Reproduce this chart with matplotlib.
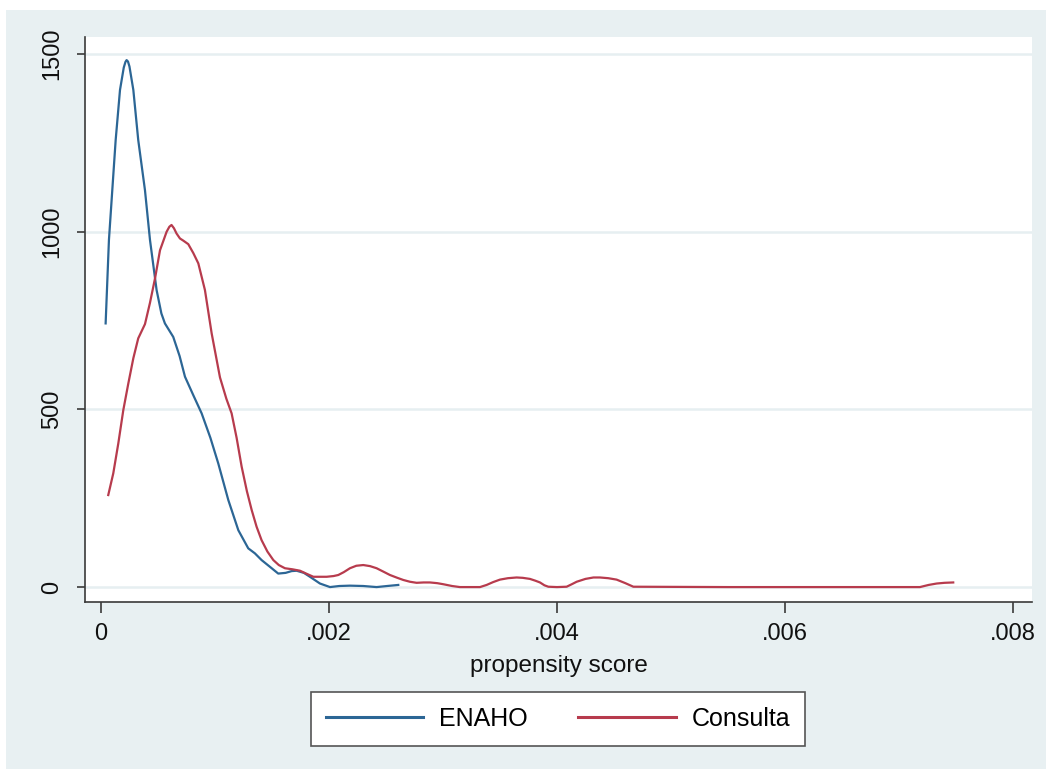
import numpy as np
import matplotlib
matplotlib.use('Agg')
import matplotlib.pyplot as plt
from matplotlib.patches import Rectangle

plt.rcParams['font.family'] = ['Liberation Sans', 'DejaVu Sans']

# kernel density curves (x in units of 0.001)
enaho_x = [0.041, 0.07, 0.10, 0.129, 0.167, 0.20, 0.215, 0.225, 0.237, 0.25,
           0.284, 0.327, 0.386, 0.430, 0.488, 0.53, 0.561, 0.634, 0.69, 0.737,
           0.81, 0.883, 0.96, 1.029, 1.117, 1.205, 1.292, 1.35, 1.409, 1.49,
           1.555, 1.62, 1.673, 1.716, 1.78, 1.833, 1.921, 2.009, 2.09, 2.184,
           2.301, 2.418, 2.51, 2.608]
enaho_y = [742, 977, 1120, 1258, 1399, 1462, 1478, 1483, 1479, 1465,
           1399, 1258, 1117, 977, 836, 770, 742, 704, 650, 592,
           540, 489, 420, 348, 245, 160, 109, 95, 76, 55,
           38, 40, 45, 46, 40, 29, 10, 0, 3, 4,
           3, 0, 3, 6]

consulta_x = [0.064, 0.108, 0.152, 0.196, 0.240, 0.284, 0.327, 0.386, 0.430, 0.475,
              0.518, 0.576, 0.600, 0.619, 0.640, 0.663, 0.693, 0.722, 0.766, 0.81,
              0.854, 0.912, 0.971, 1.044, 1.10, 1.146, 1.19, 1.234, 1.28, 1.322,
              1.365, 1.409, 1.46, 1.512, 1.56, 1.614, 1.68, 1.746, 1.80, 1.863,
              1.92, 1.980, 2.04, 2.082, 2.13, 2.184, 2.24, 2.301, 2.36, 2.418,
              2.48, 2.535, 2.60, 2.652, 2.71, 2.769, 2.83, 2.886, 2.95, 3.003,
              3.08, 3.149, 3.25, 3.325, 3.383, 3.44, 3.500, 3.57, 3.646, 3.70,
              3.763, 3.81, 3.851, 3.89, 3.924, 4.0, 4.085, 4.13, 4.173, 4.25,
              4.32, 4.377, 4.45, 4.523, 4.60, 4.670, 5.5, 6.5, 7.184, 7.26,
              7.331, 7.40, 7.476]
consulta_y = [259, 320, 404, 498, 573, 644, 700, 740, 800, 870,
              948, 1000, 1014, 1019, 1010, 995, 981, 975, 965, 940,
              911, 836, 714, 590, 530, 489, 420, 339, 270, 217,
              170, 132, 100, 76, 62, 53, 50, 46, 38, 29,
              29, 29, 31, 34, 42, 53, 60, 62, 59, 53,
              43, 34, 26, 20, 15, 12, 13, 13, 11, 8,
              3, 0, 0, 0, 6, 14, 21, 25, 27, 26,
              23, 18, 13, 5, 1, 0, 1, 8, 15, 23,
              27, 27, 25, 21, 11, 1, 0, 0, 0, 6,
              10, 12, 13]

x_ticks = [0, 0.002, 0.004, 0.006, 0.008]
x_labels = ['0', '.002', '.004', '.006', '.008']
y_ticks = [0, 500, 1000, 1500]
y_labels = ['0', '500', '1000', '1500']

bg = '#e8f0f2'
blue = '#2c6695'
red = '#b73b4d'
dark = '#3a3a3a'

fig = plt.figure(figsize=(10.46, 7.69), dpi=100, facecolor='white')
fig.patches.append(Rectangle((6 / 1046, 0), 1040 / 1046, 759 / 769,
                             transform=fig.transFigure, facecolor=bg,
                             edgecolor='none', zorder=-10))

ax = fig.add_axes([85 / 1046, 1 - 602 / 769, 947 / 1046, 565 / 769])
ax.set_facecolor('white')

l1, = ax.plot(np.array(enaho_x) * 1e-3, enaho_y, color=blue, lw=1.6,
              label='ENAHO', solid_joinstyle='round')
l2, = ax.plot(np.array(consulta_x) * 1e-3, consulta_y, color=red, lw=1.6,
              label='Consulta', solid_joinstyle='round')

ax.set_xlim(-0.00014, 0.008167)
ax.set_ylim(-42, 1548)

ax.set_yticks(y_ticks)
ax.set_yticklabels(y_labels, rotation=90, va='center')
ax.set_xticks(x_ticks)
ax.set_xticklabels(x_labels)
ax.yaxis.grid(True, color='#e6eff1', lw=1.8)
ax.set_axisbelow(True)

for s in ['top', 'right']:
    ax.spines[s].set_visible(False)
for s in ['left', 'bottom']:
    ax.spines[s].set_color(dark)
    ax.spines[s].set_linewidth(1.2)

ax.tick_params(axis='x', direction='out', length=8, width=1.2, color=dark,
               labelsize=17, pad=7, labelcolor='#111111')
ax.tick_params(axis='y', direction='out', length=6, width=1.2, color=dark,
               labelsize=17, pad=10, labelcolor='#111111')

ax.set_xlabel('propensity score', fontsize=17.5, labelpad=7, color='#111111')

leg = fig.legend(handles=[l1, l2], loc='center',
                 bbox_to_anchor=(558 / 1046, 1 - 719 / 769), ncol=2,
                 fontsize=18, frameon=True, fancybox=False, framealpha=1,
                 handlelength=3.9, handletextpad=0.65, columnspacing=2.0,
                 borderpad=0.6)
leg.get_frame().set_edgecolor('#555555')
leg.get_frame().set_linewidth(1.2)
leg.get_frame().set_facecolor('white')
for line in leg.get_lines():
    line.set_linewidth(2.2)

fig.savefig('out.png', dpi=100, facecolor='white')
